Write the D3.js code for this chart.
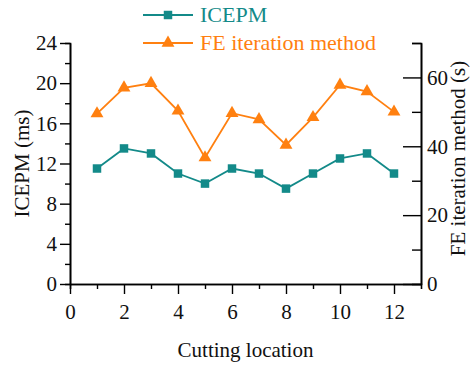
<!DOCTYPE html>
<html>
<head>
<meta charset="utf-8">
<script src="https://cdn.jsdelivr.net/npm/d3@7"></script>
<style>
  body { margin: 0; background: #fff; }
  text { font-family: "Liberation Serif", "Times New Roman", serif; }
</style>
</head>
<body>
<div id="chart"></div>
<script>
/* DATA */
const locations = [1, 2, 3, 4, 5, 6, 7, 8, 9, 10, 11, 12];
const icepm = [11.5, 13.5, 13.0, 11.0, 10.0, 11.5, 11.0, 9.5, 11.0, 12.5, 13.0, 11.0];
const feIteration = [49.5, 57.0, 58.3, 50.3, 36.7, 49.6, 47.8, 40.4, 48.4, 57.8, 55.9, 50.0];
const xTicks = [0, 2, 4, 6, 8, 10, 12];
const leftTicks = [0, 4, 8, 12, 16, 20, 24];
const rightTicks = [0, 20, 40, 60];

/* CONSTANTS */
const width = 472, height = 367;
const margin = { top: 43, bottom: 83, left: 70, right: 51 };
const teal = "#138a89", orange = "#ff8010";

const svg = d3.select("#chart").append("svg")
  .attr("width", width)
  .attr("height", height);

const xScale = d3.scaleLinear().domain([0, 13]).range([margin.left, width - margin.right]);
const yLeft = d3.scaleLinear().domain([0, 24]).range([height - margin.bottom, margin.top]);
const yRight = d3.scaleLinear().domain([0, 70]).range([height - margin.bottom, margin.top]);

// minor ticks first, then major ones with labels
svg.append("g")
  .attr("transform", `translate(0, ${height - margin.bottom})`)
  .call(d3.axisBottom(xScale).tickValues(d3.range(1, 13, 2)).tickSize(5).tickFormat(""));
svg.append("g")
  .attr("class", "x-axis")
  .attr("transform", `translate(0, ${height - margin.bottom})`)
  .call(d3.axisBottom(xScale).tickValues(xTicks).tickSize(10).tickPadding(10).tickSizeOuter(0));

svg.append("g")
  .attr("transform", `translate(${margin.left}, 0)`)
  .call(d3.axisLeft(yLeft).tickValues(d3.range(2, 24, 4)).tickSize(5).tickFormat(""));
svg.append("g")
  .attr("class", "y-axis")
  .attr("transform", `translate(${margin.left}, 0)`)
  .call(d3.axisLeft(yLeft).tickValues(leftTicks).tickSize(10).tickPadding(3).tickSizeOuter(0));

svg.append("g")
  .attr("transform", `translate(${width - margin.right}, 0)`)
  .call(d3.axisRight(yRight).tickValues([10, 30, 50, 70]).tickSize(-9).tickFormat(""));
svg.append("g")
  .attr("class", "y2-axis")
  .attr("transform", `translate(${width - margin.right}, 0)`)
  .call(d3.axisRight(yRight).tickValues(rightTicks).tickSize(-18).tickSizeOuter(0));

svg.selectAll(".domain").attr("stroke", "#000").attr("stroke-width", 1.6);
svg.selectAll(".tick line").attr("stroke", "#000").attr("stroke-width", 1.4);
svg.selectAll(".tick text")
  .attr("font-family", "Liberation Serif, serif")
  .attr("font-size", 21)
  .attr("fill", "#111");
svg.select(".y2-axis").selectAll(".tick text").attr("x", 6);

// axis titles
svg.append("text")
  .attr("x", (margin.left + width - margin.right) / 2)
  .attr("y", 357)
  .attr("text-anchor", "middle")
  .attr("font-size", 21)
  .attr("fill", "#111")
  .text("Cutting location");

svg.append("text")
  .attr("transform", `translate(29, ${yLeft(12)}) rotate(-90)`)
  .attr("text-anchor", "middle")
  .attr("font-size", 21)
  .attr("fill", "#111")
  .text("ICEPM (ms)");

svg.append("text")
  .attr("transform", `translate(465, ${yRight(35) - 5}) rotate(-90)`)
  .attr("text-anchor", "middle")
  .attr("font-size", 21)
  .attr("fill", "#111")
  .text("FE iteration method (s)");

// lines
const lineLeft = d3.line().x((d, i) => xScale(locations[i])).y(d => yLeft(d));
const lineRight = d3.line().x((d, i) => xScale(locations[i])).y(d => yRight(d));

svg.append("path")
  .attr("d", lineRight(feIteration))
  .attr("fill", "none")
  .attr("stroke", orange)
  .attr("stroke-width", 1.8);

svg.append("path")
  .attr("d", lineLeft(icepm))
  .attr("fill", "none")
  .attr("stroke", teal)
  .attr("stroke-width", 1.8);

const triangle = d3.symbol().type(d3.symbolTriangle).size(72);
const square = d3.symbol().type(d3.symbolSquare).size(72);

svg.selectAll(".tri")
  .data(feIteration)
  .join("path")
  .attr("class", "tri")
  .attr("transform", (d, i) => `translate(${xScale(locations[i])}, ${yRight(d)})`)
  .attr("d", triangle)
  .attr("fill", orange);

svg.selectAll(".sq")
  .data(icepm)
  .join("path")
  .attr("class", "sq")
  .attr("transform", (d, i) => `translate(${xScale(locations[i])}, ${yLeft(d)})`)
  .attr("d", square)
  .attr("fill", teal);

// legend
const legendItems = [
  { name: "ICEPM", color: teal, symbol: square, y: 15 },
  { name: "FE iteration method", color: orange, symbol: triangle, y: 43 }
];
const legend = svg.append("g").selectAll("g")
  .data(legendItems)
  .join("g")
  .attr("transform", d => `translate(143, ${d.y})`);
legend.append("line")
  .attr("x1", 0).attr("x2", 50)
  .attr("stroke", d => d.color)
  .attr("stroke-width", 1.8);
legend.append("path")
  .attr("transform", "translate(25, 0)")
  .attr("d", d => d.symbol())
  .attr("fill", d => d.color);
legend.append("text")
  .attr("x", 57)
  .attr("y", 7)
  .attr("font-size", 22)
  .attr("fill", d => d.color)
  .text(d => d.name);
</script>
</body>
</html>
